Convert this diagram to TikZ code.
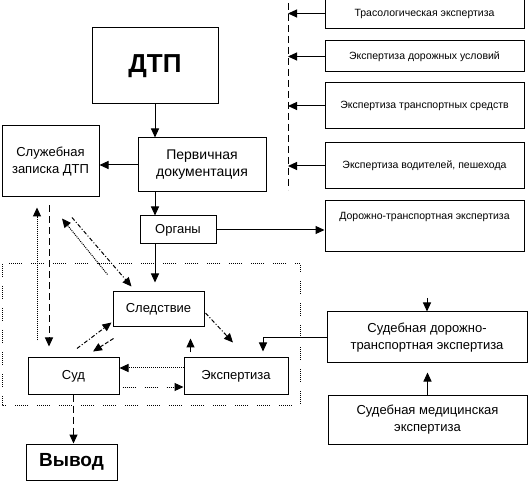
\documentclass[tikz,border=0pt]{standalone}
\usepackage{fontspec}
\setmainfont{Liberation Sans}
\usetikzlibrary{arrows.meta,positioning}
\tikzset{
  box/.style={draw,line width=1pt,inner sep=2pt,align=center,font=\fontsize{13}{17}\selectfont},
  smallbox/.style={box,minimum width=199pt,font=\fontsize{10.5}{17}\selectfont},
  arr/.style={-{Triangle[length=9pt,width=8pt]},line width=1pt},
  dashln/.style={dash pattern=on 7pt off 4pt},
  shortdash/.style={dash pattern=on 4pt off 2pt},
  dashdotln/.style={dash pattern=on 4pt off 2pt on 1pt off 2pt},
  dotln/.style={dash pattern=on 1pt off 1pt},
  sparsedot/.style={dash pattern=on 1pt off 1pt on 1pt off 1pt on 1pt off 1pt on 1pt off 1pt
                    on 1pt off 1pt on 1pt off 1pt on 1pt off 9pt}
}
\begin{document}
\begin{tikzpicture}[x=1pt,y=-1pt]
  \useasboundingbox (0,0) rectangle (528,481);
  \draw[sparsedot,line width=1pt] (2,264) rectangle (300,405);
  \node[box,minimum width=126pt,minimum height=76pt,font=\fontsize{26}{30}\selectfont\bfseries]
       (dtp) at (155,66) {ДТП};
  \node[box,minimum width=97pt,minimum height=71pt] (sluzh) at (50.5,161.5) {Служебная\\записка ДТП};
  \node[box,minimum width=128pt,minimum height=54pt,font=\fontsize{14}{17}\selectfont]
       (perv) at (202,165) {Первичная\\документация};
  \node[box,minimum width=76pt,minimum height=28pt] (organy) at (178,230) {Органы};
  \node[box,minimum width=91pt,minimum height=35pt] (sled) at (158.5,309.5) {Следствие};
  \node[box,minimum width=91pt,minimum height=36pt] (sud) at (73.5,376) {Суд};
  \node[box,minimum width=104pt,minimum height=36pt] (ekspert) at (236,376) {Экспертиза};
  \node[box,minimum width=91pt,minimum height=36pt,font=\fontsize{19}{22}\selectfont\bfseries]
       (vyvod) at (71.5,462) {Вывод};
  \node[smallbox,minimum height=31pt] (trasol) at (424.5,13.5) {Трасологическая экспертиза};
  \node[smallbox,minimum height=31pt] (dorusl) at (424.5,56.5) {Экспертиза дорожных условий};
  \node[smallbox,minimum height=46pt] (transp) at (424.5,106) {Экспертиза транспортных средств};
  \node[smallbox,minimum height=46pt] (vodit) at (424.5,166) {Экспертиза водителей, пешехода};
  \node[smallbox,minimum height=51pt] (dte) at (424.5,226.5) {Дорожно-транспортная экспертиза\\\strut};
  \node[box,minimum width=200pt,minimum height=51pt] (sdte) at (427,337.5)
       {Судебная дорожно-\\транспортная экспертиза};
  \node[box,minimum width=199pt,minimum height=49pt] (smed) at (427.5,419.5)
       {Судебная медицинская\\экспертиза};
  \coordinate (bustop) at (288,3);
  \coordinate (busbot) at (288,190);
  \coordinate (sdtein) at (427,298);
  \draw[dashln,line width=1pt] (bustop) -- (busbot);
  \foreach \n in {trasol,dorusl,transp,vodit}{
    \draw[arr] (\n.west) -- (\n.west -| bustop);}
  \draw[arr] (dtp.south) -- (dtp.south |- perv.north);
  \draw[arr] (perv.west) -- (perv.west -| sluzh.east);
  \draw[arr] (dtp.south |- perv.south) -- (dtp.south |- organy.north);
  \draw[arr,shorten >=9pt] (dtp.south |- organy.south) -- (dtp.south |- sled.north);
  \draw[arr] (organy.east) -- (organy.east -| dte.west);
  \draw[arr,dotln,shorten <=17pt,shorten >=10pt] ([xshift=-36.5pt]sud.north) -- ([xshift=-13.5pt]sluzh.south);
  \draw[arr,dashln,shorten <=8pt,shorten >=11pt] ([xshift=-1.5pt]sluzh.south) -- ([xshift=-24.5pt]sud.north);
  \draw[arr,dashdotln] ([xshift=21.5pt,yshift=-20pt]sluzh.south) -- ([xshift=19pt,yshift=5pt]sled.north west);
  \draw[arr,dotln] ([xshift=-5pt,yshift=17pt]sled.north west) -- ([xshift=11.5pt,yshift=-21pt]sluzh.south);
  \draw[arr,dashdotln] ([xshift=3.5pt,yshift=9pt]sud.north) -- ([xshift=-1pt,yshift=5pt]sled.south west);
  \draw[arr,shortdash] ([xshift=1pt,yshift=-11pt]sled.south west) -- ([xshift=19.5pt,yshift=6pt]sud.north);
  \draw[arr,dashdotln] ([xshift=1pt,yshift=-3.5pt]sled.east) -- ([xshift=-3pt,yshift=15pt]ekspert.north);
  \draw[arr] ([xshift=7pt,yshift=5pt]ekspert.north west) -- ([xshift=7pt,yshift=19pt]ekspert.north west);
  \draw[arr,dotln] ([yshift=8pt]ekspert.west) -- ([yshift=8pt]sud.east);
  \draw[arr,sparsedot,shorten <=3pt] ([yshift=-11pt]sud.east) -- ([yshift=-11pt]ekspert.west);
  \draw[arr,dashln] (sud.south) -- (sud.south |- vyvod.north);
  \draw[arr,shorten >=6pt] (sdte.west) -| ([xshift=27pt]ekspert.north);
  \draw[arr] (sdtein) -- (sdte.north);
  \draw[arr,shorten >=9pt] (smed.north) -- (smed.north |- sdte.south);
\end{tikzpicture}
\end{document}
